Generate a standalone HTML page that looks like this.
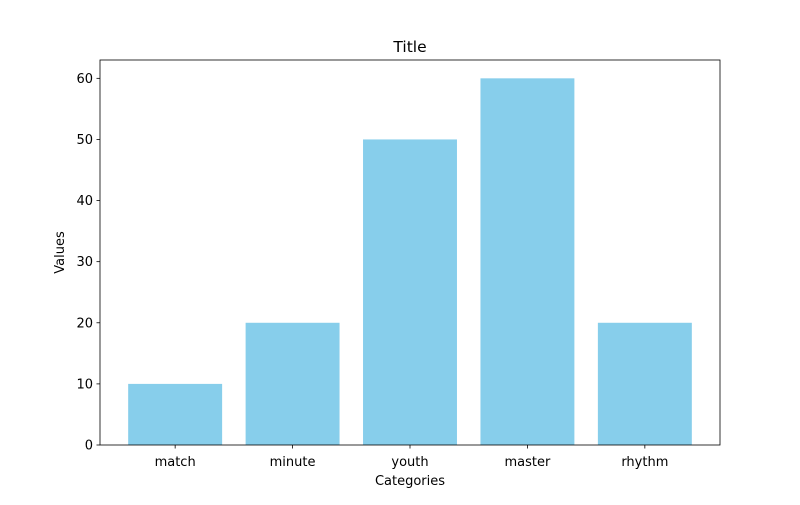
<!DOCTYPE html>
<html><head><meta charset="utf-8"><style>
body{margin:0;background:#fff;}
svg text{font-family:"DejaVu Sans","Liberation Sans",sans-serif;fill:#000;}
</style></head><body>
<svg id="chart" width="800" height="500" xmlns="http://www.w3.org/2000/svg">
<rect width="800" height="500" fill="#fff"/>
<g id="bars"></g>
<g id="axes"></g>
</svg>
<script>
const categories=["match","minute","youth","master","rhythm"];
const values=[10,20,50,60,20];
const yTicks=[0,10,20,30,40,50,60];
const yMax=63;
const L=100,R=720,T=60,B=445;
const xMin=-0.64,xMax=4.64;
const NS="http://www.w3.org/2000/svg";
function xs(v){return L+(v-xMin)/(xMax-xMin)*(R-L);}
function ys(v){return B-v/yMax*(B-T);}
function mk(tag,attrs,parent,txt){const e=document.createElementNS(NS,tag);for(const k in attrs)e.setAttribute(k,attrs[k]);if(txt!==undefined)e.textContent=txt;parent.appendChild(e);return e;}
const bars=document.getElementById('bars'),axes=document.getElementById('axes');
values.forEach((v,i)=>{
 const r=mk('rect',{x:xs(i-0.4),y:ys(v),width:xs(i+0.4)-xs(i-0.4),height:ys(0)-ys(v),fill:'#87ceeb'},bars);
 
 
 const t=mk('line',{x1:xs(i),x2:xs(i),y1:B,y2:B+3.5,stroke:'#000','stroke-width':0.8},axes);
 const l=mk('text',{x:xs(i),y:B+21,'text-anchor':'middle','font-size':'13'},axes,categories[i]);
 
 
});
yTicks.forEach(v=>{
 mk('line',{x1:L-3.5,x2:L,y1:ys(v),y2:ys(v),stroke:'#000','stroke-width':0.8},axes);
 const l=mk('text',{x:L-7,y:ys(v)+4.5,'text-anchor':'end','font-size':'13'},axes,v);
 
 
});
const f=mk('rect',{x:L,y:T,width:R-L,height:B-T,fill:'none',stroke:'#000','stroke-width':0.8},axes);


const tt=mk('text',{x:(L+R)/2,y:T-8,'text-anchor':'middle','font-size':'15.5'},axes,'Title');


const xt=mk('text',{x:(L+R)/2,y:485,'text-anchor':'middle','font-size':'13'},axes,'Categories');


const yt=mk('text',{x:0,y:0,'text-anchor':'middle','font-size':'13',transform:'translate(64,'+((T+B)/2)+') rotate(-90)'},axes,'Values');


</script>
</body></html>
